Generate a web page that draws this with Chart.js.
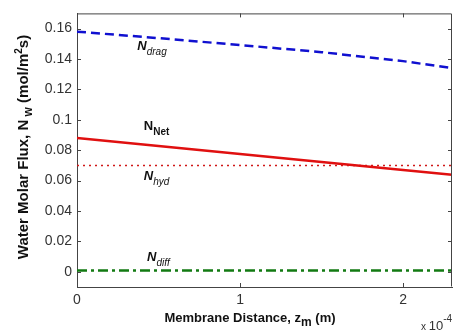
<!DOCTYPE html>
<html>
<head>
<meta charset="utf-8">
<script src="https://cdn.jsdelivr.net/npm/chart.js@4.4.1/dist/chart.umd.min.js"></script>
<style>
  html, body { margin: 0; padding: 0; background: #fff; }
  canvas { display: block; }
</style>
</head>
<body>
<canvas id="flux" width="454" height="330"></canvas>
<script>
// membrane position (x 1e-4 m) and water flux components (mol/m2 s)
const zm = [0, 0.5, 1, 1.5, 2, 2.3];
const nDrag = [0.158, 0.1537, 0.1492, 0.1445, 0.1386, 0.134];
const nNet = [0.088, 0.0827, 0.0775, 0.0722, 0.067, 0.0638];
const nHyd = [0.07, 0.07, 0.07, 0.07, 0.07, 0.07];
const nDiff = [0.0008, 0.0008, 0.0008, 0.0008, 0.0008, 0.0008];
const xTicks = [0, 1, 2];
const yTicks = [0, 0.02, 0.04, 0.06, 0.08, 0.1, 0.12, 0.14, 0.16];

const FONT = '"Liberation Sans", Arial, Helvetica, sans-serif';

// curve labels, placed in data units
const curveLabels = [
  { main: 'N', sub: 'drag', x: 0.37, y: 0.146, italic: true },
  { main: 'N', sub: 'Net', x: 0.41, y: 0.0935, italic: false },
  { main: 'N', sub: 'hyd', x: 0.41, y: 0.0605, italic: true },
  { main: 'N', sub: 'diff', x: 0.43, y: 0.0068, italic: true }
];

function pts(ys) {
  return zm.map((x, i) => ({ x: x, y: ys[i] }));
}

// draw a run of text pieces one after another, each with its own font and vertical shift
function drawRich(ctx, parts, x, y, align) {
  let total = 0;
  parts.forEach(p => { ctx.font = p.font; total += ctx.measureText(p.t).width; });
  let cx = align === 'center' ? x - total / 2 : x;
  ctx.textAlign = 'left';
  ctx.textBaseline = 'alphabetic';
  parts.forEach(p => {
    ctx.font = p.font;
    ctx.fillText(p.t, cx, y + (p.dy || 0));
    cx += ctx.measureText(p.t).width;
  });
}

const framePlugin = {
  id: 'frame',
  afterDraw(chart) {
    const ctx = chart.ctx;
    const a = chart.chartArea;
    const xs = chart.scales.x, ys = chart.scales.y;
    ctx.save();
    ctx.strokeStyle = '#444';
    ctx.lineWidth = 1;
    ctx.beginPath();
    ctx.moveTo(a.left + 0.5, a.top + 0.5);
    ctx.lineTo(a.right - 0.5, a.top + 0.5);
    ctx.lineTo(a.right - 0.5, a.bottom - 0.5);
    // inward tick marks on all four sides
    xTicks.forEach(v => {
      const px = Math.round(xs.getPixelForValue(v)) + 0.5;
      ctx.moveTo(px, a.bottom); ctx.lineTo(px, a.bottom - 4);
      ctx.moveTo(px, a.top); ctx.lineTo(px, a.top + 4);
    });
    yTicks.forEach(v => {
      const py = Math.round(ys.getPixelForValue(v)) + 0.5;
      ctx.moveTo(a.left, py); ctx.lineTo(a.left + 4, py);
      ctx.moveTo(a.right, py); ctx.lineTo(a.right - 4, py);
    });
    ctx.stroke();

    ctx.fillStyle = '#111';
    curveLabels.forEach(l => {
      const px = xs.getPixelForValue(l.x);
      const py = ys.getPixelForValue(l.y);
      const st = l.italic ? 'italic ' : '';
      drawRich(ctx, [
        { t: l.main, font: st + 'bold 13px ' + FONT },
        { t: l.sub, font: st + (l.italic ? '' : 'bold ') + '10px ' + FONT, dy: 5 }
      ], px, py, 'left');
    });

    // axis titles
    drawRich(ctx, [
      { t: 'Membrane Distance, z', font: 'bold 13px ' + FONT },
      { t: 'm', font: 'bold 12px ' + FONT, dy: 4 },
      { t: ' (m)', font: 'bold 13px ' + FONT }
    ], 250, 322, 'center');

    ctx.save();
    ctx.translate(28, 147);
    ctx.rotate(-Math.PI / 2);
    drawRich(ctx, [
      { t: 'Water Molar Flux, N', font: 'bold 15px ' + FONT },
      { t: ' w', font: 'bold 12px ' + FONT, dy: 4 },
      { t: ' (mol/m', font: 'bold 15px ' + FONT },
      { t: '2', font: 'bold 10px ' + FONT, dy: -6 },
      { t: 's)', font: 'bold 15px ' + FONT }
    ], 0, 0, 'center');
    ctx.restore();

    // exponent of the x axis
    ctx.fillStyle = '#333';
    drawRich(ctx, [
      { t: 'x ', font: '10px ' + FONT },
      { t: '10', font: '13px ' + FONT },
      { t: '-4', font: '10px ' + FONT, dy: -8 }
    ], 421, 330, 'left');
    ctx.restore();
  }
};

new Chart(document.getElementById('flux'), {
  type: 'line',
  data: {
    datasets: [
      { data: pts(nDrag), borderColor: '#1010d0', borderWidth: 2.5, borderDash: [9, 5] },
      { data: pts(nNet), borderColor: '#e01010', borderWidth: 2.5 },
      { data: pts(nHyd), borderColor: '#d01818', borderWidth: 1.5, borderDash: [2, 4] },
      { data: pts(nDiff), borderColor: '#127a12', borderWidth: 2.5, borderDash: [10, 4, 3, 4] }
    ]
  },
  options: {
    responsive: false,
    animation: false,
    layout: { padding: { left: 0, right: 2, top: 10, bottom: 0 } },
    elements: { point: { radius: 0 }, line: { tension: 0, borderCapStyle: 'butt' } },
    plugins: { legend: { display: false }, tooltip: { enabled: false } },
    scales: {
      x: {
        type: 'linear', min: 0, max: 2.3,
        grid: { display: false, drawTicks: false },
        border: { color: '#444' },
        afterBuildTicks: s => { s.ticks = xTicks.map(v => ({ value: v })); },
        afterFit: s => { s.height = 43; },
        ticks: { autoSkip: false, padding: 5, color: '#333', font: { family: FONT, size: 14 } }
      },
      y: {
        min: -0.01, max: 0.17,
        grid: { display: false, drawTicks: false },
        border: { color: '#444' },
        afterBuildTicks: s => { s.ticks = yTicks.map(v => ({ value: v })); },
        afterFit: s => { s.width = 77; },
        ticks: {
          autoSkip: false, padding: 5, color: '#333', font: { family: FONT, size: 14 },
          callback: v => String(+v.toFixed(2))
        }
      }
    }
  },
  plugins: [framePlugin]
});
</script>
</body>
</html>
